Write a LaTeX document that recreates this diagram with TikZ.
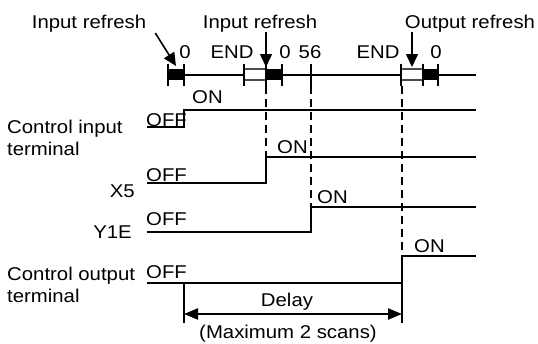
\documentclass[tikz,border=0pt]{standalone}
\usepackage{fontspec}
\setmainfont{Liberation Sans}[FakeStretch=1.1]
\usetikzlibrary{arrows.meta}
\begin{document}
\begin{tikzpicture}[x=1pt,y=-1pt,font=\fontsize{18.5}{21}\selectfont,
  sig/.style={line width=2.2pt},
  guide/.style={line width=1.2pt,dash pattern=on 8pt off 5pt},
  lbl/.style={inner sep=0pt,anchor=base},
  refr/.style={line width=1.6pt,-{Triangle[length=13pt,width=12pt]}},
  dly/.style={line width=2.2pt,{Triangle[length=14pt,width=11pt]}-{Triangle[length=14pt,width=11pt]}}]
  \useasboundingbox (0,0) rectangle (538,343);
  % scan line with refresh blocks
  \draw[sig] (168,75) -- (476,75);
  \fill (168,69) rectangle (184,80);
  \fill (266,69) rectangle (282,80);
  \fill (423,69) rectangle (438,80);
  \filldraw[fill=white,draw=black!70,line width=1.5pt] (244,69) rectangle (266,80);
  \filldraw[fill=white,draw=black!70,line width=1.5pt] (401,69) rectangle (423,80);
  \foreach \x in {168,184,244,266,282,311,401,423,438}
    \draw[sig] (\x,64) -- (\x,86);
  \node[lbl] (s0a) at (185,58) {0};
  \node[lbl] (enda) at (232,58) {END};
  \node[lbl] (s0b) at (285,58) {0};
  \node[lbl] (s56) at (310,58) {56};
  \node[lbl] (endb) at (378,58) {END};
  \node[lbl] (s0c) at (436,58) {0};
  % refresh labels
  \node[lbl] (inref1) at (89,28) {Input refresh};
  \node[lbl] (inref2) at (260,28) {Input refresh};
  \node[lbl] (outref) at (470,28) {Output refresh};
  \coordinate (tip1) at (176,66);
  \coordinate (tip2) at (266,67);
  \coordinate (tip3) at (412,67);
  \draw[refr] ([xshift=9pt,yshift=-1pt]inref1.south east) -- (tip1);
  \draw[refr] (inref2.south -| tip2) -- (tip2);
  \draw[refr] (outref.south -| tip3) -- (tip3);
  % guides
  \draw[guide] (266,86) -- (266,183);
  \draw[guide] (311,86) -- (311,232);
  \draw[guide] (402,86) -- (402,283);
  % signals
  \draw[sig] (147,127) -- (184,127) -- (184,110) -- (476,110);
  \draw[sig] (147,183) -- (266,183) -- (266,157) -- (476,157);
  \draw[sig] (147,232) -- (311,232) -- (311,207) -- (476,207);
  \draw[sig] (147,283) -- (402,283) -- (402,256) -- (476,256);
  \draw[sig] (402,283) -- (402,323);
  \draw[sig] (184,283) -- (184,323);
  \node[lbl,anchor=base west] (cin1) at (7,133) {Control input};
  \node[lbl,anchor=base west] (cin2) at (7,155) {terminal};
  \node[lbl,anchor=base east] (x5) at (135,197) {X5};
  \node[lbl,anchor=base east] (y1e) at (132,238) {Y1E};
  \node[lbl,anchor=base west] (cout1) at (7,280) {Control output};
  \node[lbl,anchor=base west] (cout2) at (7,302) {terminal};
  \node[lbl,anchor=base west] (off1) at (146,126) {OFF};
  \node[lbl,anchor=base west] (off2) at (146,181.5) {OFF};
  \node[lbl,anchor=base west] (off3) at (146,225) {OFF};
  \node[lbl,anchor=base west] (off4) at (146,278) {OFF};
  \node[lbl,anchor=base west] (on1) at (192,103) {ON};
  \node[lbl,anchor=base west] (on2) at (277,153) {ON};
  \node[lbl,anchor=base west] (on3) at (317,203) {ON};
  \node[lbl,anchor=base west] (on4) at (414,252) {ON};
  % delay
  \coordinate (dl) at (184,314);
  \coordinate (dr) at (402,314);
  \draw[dly] (dl) -- (dr);
  \node[lbl] (delay) at (287,306) {Delay};
  \node[lbl] (maxscan) at (288,338.5) {(Maximum 2 scans)};
\end{tikzpicture}
\end{document}
